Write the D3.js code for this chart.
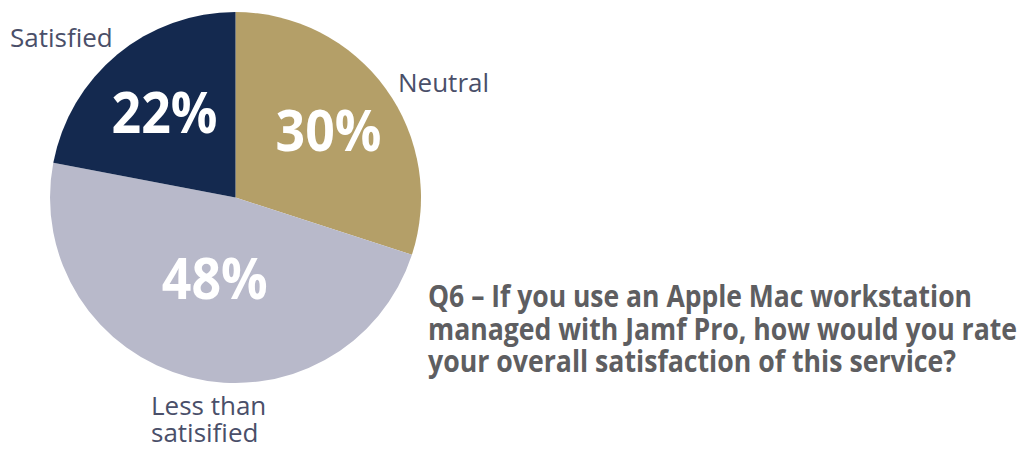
<!DOCTYPE html>
<html>
<head>
<meta charset="utf-8">
<script src="https://cdn.jsdelivr.net/npm/d3@7"></script>
<style>
  html, body { margin: 0; padding: 0; background: #fff; }
  svg { display: block; }
</style>
</head>
<body>
<svg id="chart"></svg>
<script>
'use strict';

const WIDTH = 1024;
const HEIGHT = 451;
const CX = 235.5;
const CY = 197.5;
const R = 185.5;

// data
const CATEGORIES = ['Neutral', 'Less than satisified', 'Satisfied'];
const VALUES = [30, 48, 22];
const QUESTION = [
  'Q6 \u2013 If you use an Apple Mac workstation',
  'managed with Jamf Pro, how would you rate',
  'your overall satisfaction of this service?',
];

const color = d3.scaleOrdinal()
  .domain(CATEGORIES)
  .range(['#b49f68', '#b8b9ca', '#14294f']);

// where the percent sits along the slice bisector (fraction of R)
const LABEL_R = { 'Neutral': 0.62, 'Less than satisified': 0.45, 'Satisfied': 0.6 };

// category name placement, outside the pie
const NAME_POS = {
  'Neutral': { x: 398, y: 92, lines: ['Neutral'] },
  'Less than satisified': { x: 151, y: 415, lines: ['Less than', 'satisified'] },
  'Satisfied': { x: 10, y: 47, lines: ['Satisfied'] },
};

const svg = d3.select('#chart')
  .attr('width', WIDTH)
  .attr('height', HEIGHT)
  .attr('viewBox', `0 0 ${WIDTH} ${HEIGHT}`);

const pie = d3.pie().sort(null).value(d => d.value);
const arcs = pie(CATEGORIES.map((c, i) => ({ name: c, value: VALUES[i] })));
const arc = d3.arc().innerRadius(0).outerRadius(R);

const g = svg.append('g').attr('transform', `translate(${CX},${CY})`);

g.selectAll('path.slice')
  .data(arcs)
  .join('path')
  .attr('class', 'slice')
  .attr('d', arc)
  .attr('fill', d => color(d.data.name));

g.selectAll('text.pct')
  .data(arcs)
  .join('text')
  .attr('class', 'pct')
  .attr('transform', d => {
    const a = (d.startAngle + d.endAngle) / 2;
    const lr = R * LABEL_R[d.data.name];
    return `translate(${lr * Math.sin(a)},${-lr * Math.cos(a) + 21})`;
  })
  .attr('text-anchor', 'middle')
  .attr('font-family', '"Open Sans", sans-serif')
  .attr('font-weight', 700)
  .attr('font-size', 57)
  .attr('fill', '#ffffff')
  .attr('textLength', 106)
  .attr('lengthAdjust', 'spacingAndGlyphs')
  .text(d => `${d.data.value}%`);

// category names
const names = svg.append('g');
CATEGORIES.forEach(c => {
  const p = NAME_POS[c];
  const t = names.append('text')
    .attr('font-family', '"Open Sans", sans-serif')
    .attr('font-size', 26)
    .attr('fill', '#4a4f69');
  p.lines.forEach((ln, i) => {
    t.append('tspan').attr('x', p.x).attr('y', p.y + i * 27).text(ln);
  });
});

// question text
const qWidths = [544, 589, 528];
svg.append('g').selectAll('text')
  .data(QUESTION)
  .join('text')
  .attr('x', 428)
  .attr('y', (d, i) => 307 + i * 32.5)
  .attr('font-family', '"Open Sans", sans-serif')
  .attr('font-weight', 700)
  .attr('font-size', 30)
  .attr('fill', '#5e5e61')
  .attr('textLength', (d, i) => qWidths[i])
  .attr('lengthAdjust', 'spacingAndGlyphs')
  .text(d => d);
</script>
</body>
</html>
